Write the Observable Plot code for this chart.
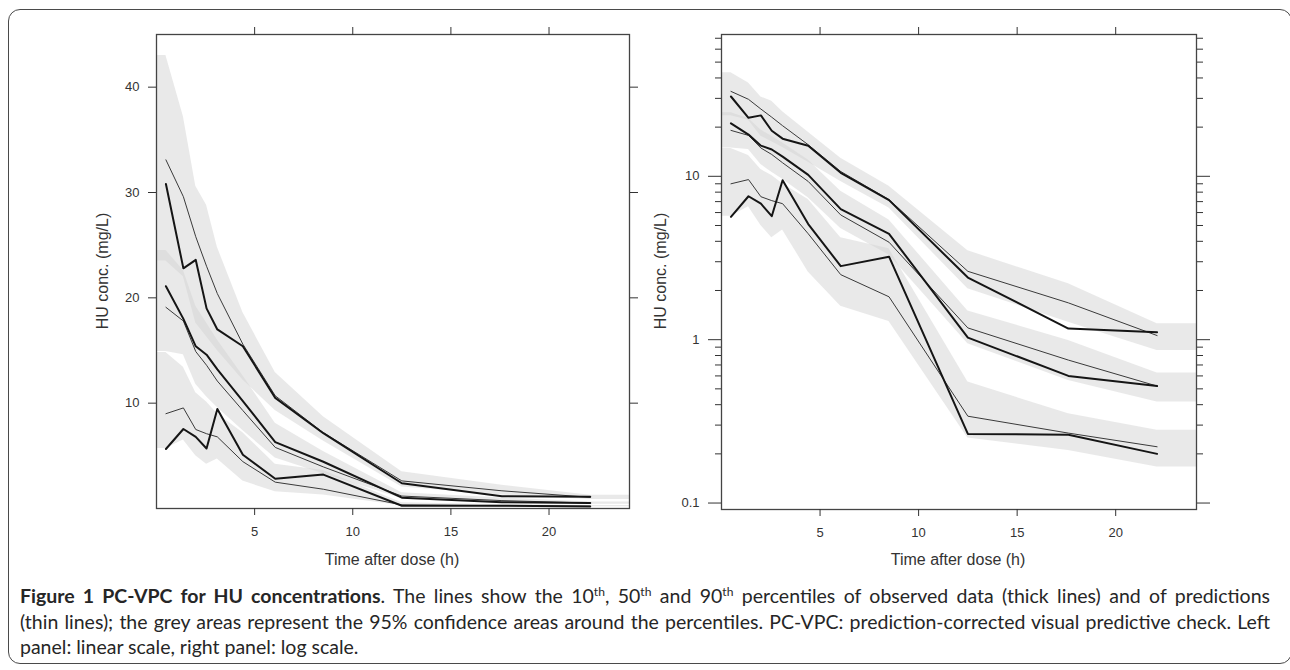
<!DOCTYPE html>
<html>
<head>
<meta charset="utf-8">
<script src="https://cdn.jsdelivr.net/npm/d3@7"></script>
<script src="https://cdn.jsdelivr.net/npm/@observablehq/plot@0.6"></script>
<style>
  body { margin: 0; background: #fff; }
  #wrap { position: relative; width: 1290px; height: 670px; overflow: hidden; font-family: "Liberation Sans", Arial, sans-serif; background: #fff; }
  #box { position: absolute; left: 8px; top: 9px; width: 1284px; height: 655px; border: 1.5px solid #4a4a4a; border-radius: 12px; box-sizing: border-box; }
  .panel { position: absolute; top: 0; }
  .ylab { position: absolute; font-size: 16px; color: #333; transform: translate(-50%, -50%) rotate(-90deg); white-space: nowrap; }
  .xlab { position: absolute; font-size: 16px; color: #333; transform: translateX(-50%); white-space: nowrap; }
  #cap { position: absolute; left: 20px; top: 583px; width: 1250px; font-family: Lato, "Open Sans", sans-serif; font-size: 17px; color: #262626; line-height: 25.5px; }
  #cap .jl { text-align: justify; text-align-last: justify; white-space: nowrap; }
  #cap sup { font-size: 0.62em; line-height: 0; vertical-align: 0.55em; }
  #cap span.m { display: inline-block; white-space: nowrap; }
</style>
</head>
<body>
<div id="wrap">
  <div id="box"></div>
  <div id="left" class="panel" style="left:0px"></div>
  <div id="right" class="panel" style="left:645px"></div>
  <div class="ylab" style="left:103px; top:271px">HU conc. (mg/L)</div>
  <div class="ylab" style="left:661px; top:271px">HU conc. (mg/L)</div>
  <div class="xlab" style="left:392px; top:551px">Time after dose (h)</div>
  <div class="xlab" style="left:958px; top:551px">Time after dose (h)</div>
  <div id="cap">
    <div class="jl" id="cap1"><b>Figure 1 PC-VPC for HU concentrations</b>. The lines show the 10<sup>th</sup>, 50<sup>th</sup> and 90<sup>th</sup> percentiles of observed data (thick lines) and of predictions</div>
    <div class="jl" id="cap2">(thin lines); the grey areas represent the 95% confidence areas around the percentiles. PC-VPC: prediction-corrected visual predictive check. Left</div>
    <div>panel: linear scale, right panel: log scale.</div>
  </div>
</div>
<script>
// ---- Data ----
const time = [0.48, 1.37, 2.0, 2.55, 3.1, 4.4, 6.05, 8.5, 12.5, 17.6, 22.1];

// Observed percentiles (thick lines)
const obs90 = [30.8, 22.8, 23.6, 19.0, 17.0, 15.4, 10.5, 7.15, 2.4, 1.17, 1.11];
const obs50 = [21.1, 18.0, 15.4, 14.6, 13.2, 10.2, 6.3, 4.44, 1.03, 0.60, 0.52];
const obs10 = [5.65, 7.55, 6.8, 5.7, 9.45, 5.1, 2.82, 3.22, 0.265, 0.262, 0.20];

// Predicted percentiles (thin lines)
const pred90 = [33.1, 29.6, 25.8, 23.0, 20.4, 15.6, 10.7, 7.2, 2.62, 1.68, 1.06];
const pred50 = [19.1, 17.8, 14.9, 13.6, 12.1, 9.3, 5.8, 3.95, 1.18, 0.75, 0.52];
const pred10 = [9.0, 9.55, 7.5, 7.1, 6.8, 4.45, 2.5, 1.83, 0.34, 0.268, 0.221];

// 95% confidence areas around the percentiles
const bandTime = [0, 0.48, 1.37, 2.0, 2.55, 3.1, 4.4, 6.05, 8.5, 12.5, 17.6, 22.1, 24.1];
const ci90Lo = [23.5, 23.5, 22.0, 17.6, 16.3, 15.0, 12.2, 9.3, 6.4, 2.05, 1.28, 0.86, 0.86];
const ci90Hi = [43.0, 43.0, 37.2, 30.6, 28.8, 24.8, 18.6, 12.9, 8.7, 3.5, 2.2, 1.25, 1.25];
const ci50Lo = [14.9, 14.9, 14.6, 11.8, 10.6, 9.6, 7.4, 4.8, 3.3, 0.944, 0.563, 0.415, 0.415];
const ci50Hi = [24.5, 24.5, 22.6, 19.2, 17.6, 16.0, 12.6, 8.1, 5.4, 1.5, 0.99, 0.625, 0.625];
const ci10Lo = [5.7, 5.7, 6.5, 5.0, 4.2, 4.7, 2.6, 1.6, 1.29, 0.25, 0.21, 0.166, 0.166];
const ci10Hi = [14.8, 14.8, 13.4, 11.0, 10.1, 9.0, 7.2, 4.2, 3.6, 0.55, 0.352, 0.279, 0.279];

// Ticks
const xTicks = [5, 10, 15, 20];
const linTicks = [10, 20, 30, 40];
const logMajor = [0.1, 1, 10];
const logMinor = [0.2, 0.3, 0.4, 0.5, 0.6, 0.7, 0.8, 0.9, 2, 3, 4, 5, 6, 7, 8, 9, 20, 30, 40, 50, 60, 70];
const logLabels = ["0.1", "1", "10"];

// ---- Build tables ----
const series = [
  {name: "obs90", vals: obs90, thick: true},
  {name: "obs50", vals: obs50, thick: true},
  {name: "obs10", vals: obs10, thick: true},
  {name: "pred90", vals: pred90, thick: false},
  {name: "pred50", vals: pred50, thick: false},
  {name: "pred10", vals: pred10, thick: false}
];
const lineRows = series.flatMap(s => s.vals.map((v, i) => ({t: time[i], v, s: s.name, thick: s.thick})));
const bands = [
  {name: "ci90", lo: ci90Lo, hi: ci90Hi},
  {name: "ci50", lo: ci50Lo, hi: ci50Hi},
  {name: "ci10", lo: ci10Lo, hi: ci10Hi}
];
const bandRows = bands.flatMap(b => bandTime.map((t, i) => ({t, lo: b.lo[i], hi: b.hi[i], band: b.name})));

function panel(log) {
  const axes = [];
  axes.push(Plot.axisX({anchor: "bottom", ticks: xTicks, tickSize: 7, tickPadding: 11, label: null}));
  axes.push(Plot.axisX({anchor: "top", ticks: xTicks, tickSize: 8, tickFormat: () => "", label: null}));
  if (log) {
    axes.push(Plot.axisY({anchor: "left", ticks: logMinor, tickSize: 6, tickFormat: () => "", label: null}));
    axes.push(Plot.axisY({anchor: "left", ticks: logMajor, tickSize: 13, tickPadding: 9, tickFormat: d => logLabels[logMajor.indexOf(d)], label: null}));
    axes.push(Plot.axisY({anchor: "right", ticks: logMinor, tickSize: 6, tickFormat: () => "", label: null}));
    axes.push(Plot.axisY({anchor: "right", ticks: logMajor, tickSize: 13, tickFormat: () => "", label: null}));
  } else {
    axes.push(Plot.axisY({anchor: "left", ticks: linTicks, tickSize: 8, tickPadding: 9, label: null}));
    axes.push(Plot.axisY({anchor: "right", ticks: linTicks, tickSize: 8, tickFormat: () => "", label: null}));
  }
  return Plot.plot({
    width: 645,
    height: 580,
    marginLeft: log ? 76 : 156,
    marginRight: log ? 94 : 16,
    marginTop: 34,
    marginBottom: log ? 71 : 72,
    x: {domain: [0, 24.1]},
    y: log ? {type: "log", domain: [0.0913, 73.8]} : {type: "linear", domain: [0, 45]},
    style: {fontFamily: "'Liberation Sans', Arial, sans-serif", fontSize: "13px", color: "#333", background: "transparent"},
    marks: [
      Plot.areaY(bandRows, {x: "t", y1: "lo", y2: "hi", z: "band", fill: "#d4d4d4", fillOpacity: 0.5, curve: "linear"}),
      Plot.line(lineRows.filter(d => !d.thick), {x: "t", y: "v", z: "s", stroke: "#3a3a3a", strokeWidth: 1}),
      Plot.line(lineRows.filter(d => d.thick), {x: "t", y: "v", z: "s", stroke: "#151515", strokeWidth: 2}),
      Plot.frame({stroke: "#444", strokeWidth: 1.3}),
      ...axes
    ]
  });
}

document.getElementById("left").appendChild(panel(false));
document.getElementById("right").appendChild(panel(true));

// Fit caption font size so the two justified lines' natural widths fit the box
(function fitCaption() {
  const cap = document.getElementById("cap");
  const probes = ["cap1", "cap2"].map(id => {
    const p = document.createElement("span");
    p.className = "m";
    p.innerHTML = document.getElementById(id).innerHTML;
    cap.appendChild(p);
    return p;
  });
  let size = 20;
  while (size > 11) {
    cap.style.fontSize = size + "px";
    const w = Math.max(...probes.map(p => p.getBoundingClientRect().width));
    if (w <= 1240) break;
    size -= 0.25;
  }
  probes.forEach(p => cap.removeChild(p));
})();
</script>
</body>
</html>
